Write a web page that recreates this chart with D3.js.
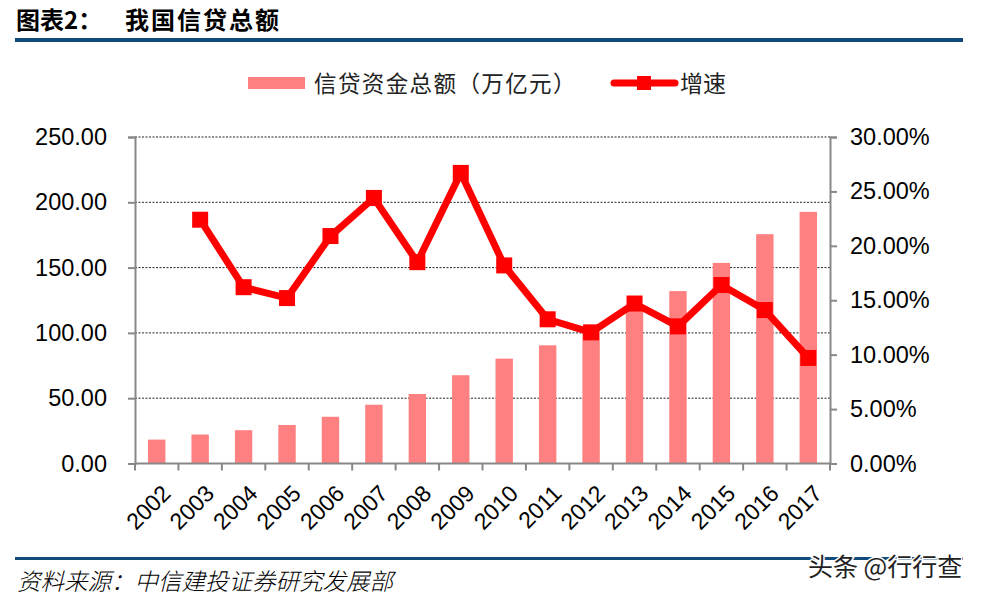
<!DOCTYPE html>
<html><head><meta charset="utf-8">
<script src="https://cdn.jsdelivr.net/npm/d3@7"></script>
<style>body{margin:0;background:#fff}svg{display:block}</style>
</head><body>
<svg id="c" width="981" height="596"></svg>
<script>
const years = ["2002","2003","2004","2005","2006","2007","2008","2009","2010","2011","2012","2013","2014","2015","2016","2017"];
const credit = [18.3, 22.2, 25.5, 29.5, 35.8, 45.0, 53.2, 67.6, 80.3, 90.5, 101.5, 117.0, 132.0, 153.6, 175.6, 192.7];
const growth = [null, 22.4, 16.2, 15.2, 20.9, 24.4, 18.5, 26.7, 18.2, 13.25, 12.05, 14.7, 12.6, 16.4, 14.1, 9.7];
const leftTicks = [0, 50, 100, 150, 200, 250];
const rightTicks = [0, 5, 10, 15, 20, 25, 30];
const legendLabels = ["信贷资金总额（万亿元）", "增速"];

const svg = d3.select("#c");
const M = {l:135, r:830, t:137, b:463.5};
const xb = d3.scaleBand().domain(years).range([M.l, M.r]);
const yL = d3.scaleLinear().domain([0,250]).range([M.b, M.t]);
const yR = d3.scaleLinear().domain([0,30]).range([M.b, M.t]);
const numFont = "'Liberation Sans', Arial, sans-serif";
const cjk = "'Noto Sans CJK SC', sans-serif";

// title
svg.append("text").attr("x",16).attr("y",29).attr("font-family",cjk).attr("font-weight",700).attr("font-size",24).attr("fill","#000")
  .text("图表2：");
svg.append("text").attr("x",125).attr("y",29).attr("font-family",cjk).attr("font-weight",700).attr("font-size",24).attr("letter-spacing",2).attr("fill","#000")
  .text("我国信贷总额");
svg.append("rect").attr("x",15).attr("y",38).attr("width",948).attr("height",4).attr("fill","#134a7c");
svg.append("rect").attr("x",15).attr("y",557).attr("width",948).attr("height",3).attr("fill","#134a7c");

// gridlines
svg.append("g").selectAll("line").data(leftTicks).join("line")
  .attr("x1",M.l).attr("x2",M.r).attr("y1",d=>yL(d)).attr("y2",d=>yL(d))
  .attr("stroke","#222").attr("stroke-width",1).attr("stroke-dasharray","2,1.5");

// bars
svg.append("g").selectAll("rect").data(years).join("rect")
  .attr("x",d=>xb(d)+xb.bandwidth()/2-8.7).attr("width",17.4)
  .attr("y",(d,i)=>yL(credit[i])).attr("height",(d,i)=>yL(0)-yL(credit[i]))
  .attr("fill","#ff8080");

// axes
const axL = d3.axisLeft(yL).tickValues(leftTicks).tickFormat(d3.format(".2f")).tickSize(7).tickPadding(21);
const gL = svg.append("g").attr("transform",`translate(${M.l},0)`).call(axL);
const axR = d3.axisRight(yR).tickValues(rightTicks).tickFormat(d=>d3.format(".2f")(d)+"%").tickSize(7).tickPadding(13);
const gR = svg.append("g").attr("transform",`translate(${M.r},0)`).call(axR);
const axB = d3.axisBottom(xb).tickValues([]).tickSizeOuter(0);
const gB = svg.append("g").attr("transform",`translate(0,${M.b})`).call(axB);
const bounds = years.map(d=>xb(d)).concat([M.r]);
gB.selectAll(".bt").data(bounds).join("line").attr("class","bt")
  .attr("x1",d=>d).attr("x2",d=>d).attr("y1",0).attr("y2",7).attr("stroke","#888").attr("stroke-width",2);
gB.selectAll(".yl").data(years).join("text").attr("class","yl")
  .attr("transform",d=>`translate(${xb(d)+xb.bandwidth()/2+4},${20}) rotate(-45)`)
  .attr("text-anchor","end").attr("dy","0.7em").attr("font-family",numFont).attr("font-size",23).attr("fill","#000")
  .text(d=>d);
[gL,gR,gB].forEach(g=>{
  g.select(".domain").attr("stroke","#888").attr("stroke-width",2);
  g.selectAll(".tick line").attr("stroke","#888").attr("stroke-width",2);
  g.selectAll(".tick text").attr("font-family",numFont).attr("font-size",23.5).attr("fill","#000");
});
gB.select(".domain").attr("d",`M${M.l},0H${M.r}`);

// line
const pts = years.map((d,i)=>({d, v:growth[i]})).filter(p=>p.v!=null);
const line = d3.line().x(p=>xb(p.d)+xb.bandwidth()/2).y(p=>yR(p.v));
svg.append("path").datum(pts).attr("d",line).attr("fill","none").attr("stroke","#ff0000").attr("stroke-width",7).attr("stroke-linejoin","miter");
svg.append("g").selectAll("rect").data(pts).join("rect")
  .attr("x",p=>xb(p.d)+xb.bandwidth()/2-8).attr("y",p=>yR(p.v)-8).attr("width",16).attr("height",16).attr("fill","#ff0000");

// legend
svg.append("rect").attr("x",248).attr("y",77).attr("width",57).attr("height",12).attr("fill","#ff8080");
svg.append("text").attr("x",314).attr("y",92).attr("font-family",cjk).attr("font-size",22.5).attr("letter-spacing",1.4).attr("fill","#222").text(legendLabels[0]);
svg.append("line").attr("x1",614).attr("x2",675).attr("y1",83).attr("y2",83).attr("stroke","#ff0000").attr("stroke-width",7).attr("stroke-linecap","round");
svg.append("rect").attr("x",637).attr("y",76).attr("width",14).attr("height",14).attr("fill","#ff0000");
svg.append("text").attr("x",680).attr("y",92).attr("font-family",cjk).attr("font-size",23).attr("fill","#222").text(legendLabels[1]);

// source
svg.append("text").attr("x",17).attr("y",590).attr("font-family",cjk).attr("font-style","italic").attr("font-weight",300).attr("font-size",23.5).attr("fill","#000")
  .text("资料来源：中信建投证券研究发展部");
// watermark
svg.append("text").attr("x",808).attr("y",576).attr("font-family",cjk).attr("font-size",25).attr("fill","#222")
  .attr("stroke","#fff").attr("stroke-width",3).attr("paint-order","stroke").text("头条 @行行查");
</script>
</body></html>
